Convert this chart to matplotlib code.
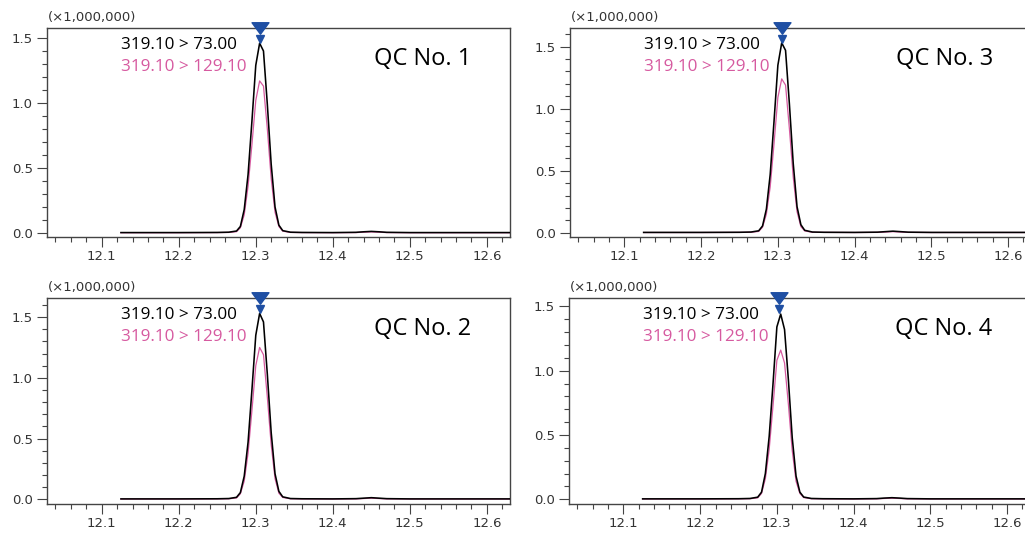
""" QC chromatograms, 4 panels

"""
import numpy as np
import matplotlib
matplotlib.use("Agg")
import matplotlib.pyplot as plt
import matplotlib.transforms as mtransforms
from matplotlib.path import Path
from matplotlib.ticker import MultipleLocator, FormatStrFormatter


# retention time (min)
rt = [12.125, 12.15, 12.20, 12.25, 12.265, 12.275, 12.28, 12.285, 12.29, 12.295,
      12.30, 12.305, 12.31, 12.315, 12.32, 12.325, 12.33, 12.335, 12.345, 12.36,
      12.40, 12.43, 12.44, 12.45, 12.46, 12.47, 12.50, 12.55, 12.60, 12.65]

# intensities (x1,000,000)
qc1_73 = [0.003, 0.003, 0.003, 0.004, 0.006, 0.015, 0.05, 0.18, 0.45, 0.86,
          1.29, 1.46, 1.40, 0.99, 0.53, 0.20, 0.06, 0.018, 0.006, 0.004,
          0.003, 0.005, 0.009, 0.012, 0.009, 0.005, 0.003, 0.003, 0.003, 0.003]
qc1_129 = [0.002, 0.002, 0.002, 0.003, 0.004, 0.010, 0.04, 0.14, 0.36, 0.68,
           1.02, 1.17, 1.13, 0.80, 0.42, 0.16, 0.05, 0.014, 0.004, 0.003,
           0.002, 0.003, 0.006, 0.008, 0.006, 0.003, 0.002, 0.002, 0.002, 0.002]

qc2_73 = [0.003, 0.003, 0.003, 0.004, 0.006, 0.016, 0.055, 0.19, 0.47, 0.90,
          1.35, 1.53, 1.46, 1.03, 0.55, 0.21, 0.065, 0.02, 0.006, 0.004,
          0.003, 0.005, 0.009, 0.013, 0.009, 0.005, 0.003, 0.003, 0.003, 0.003]
qc2_129 = [0.002, 0.002, 0.002, 0.003, 0.004, 0.011, 0.045, 0.15, 0.38, 0.73,
           1.10, 1.25, 1.19, 0.84, 0.45, 0.17, 0.05, 0.015, 0.004, 0.003,
           0.002, 0.003, 0.006, 0.009, 0.006, 0.003, 0.002, 0.002, 0.002, 0.002]

qc3_73 = [0.003, 0.003, 0.003, 0.004, 0.006, 0.016, 0.055, 0.19, 0.47, 0.90,
          1.35, 1.53, 1.47, 1.04, 0.56, 0.21, 0.065, 0.02, 0.006, 0.004,
          0.003, 0.005, 0.009, 0.013, 0.009, 0.005, 0.003, 0.003, 0.003, 0.003]
qc3_129 = [0.002, 0.002, 0.002, 0.003, 0.004, 0.011, 0.045, 0.15, 0.37, 0.72,
           1.09, 1.24, 1.19, 0.84, 0.45, 0.17, 0.05, 0.015, 0.004, 0.003,
           0.002, 0.003, 0.006, 0.009, 0.006, 0.003, 0.002, 0.002, 0.002, 0.002]

qc4_73 = [0.003, 0.003, 0.003, 0.004, 0.006, 0.016, 0.055, 0.20, 0.49, 0.90,
          1.34, 1.44, 1.32, 0.93, 0.48, 0.18, 0.055, 0.017, 0.006, 0.004,
          0.003, 0.005, 0.009, 0.012, 0.009, 0.005, 0.003, 0.003, 0.003, 0.003]
qc4_129 = [0.002, 0.002, 0.002, 0.003, 0.004, 0.011, 0.045, 0.16, 0.39, 0.73,
           1.08, 1.16, 1.06, 0.74, 0.38, 0.14, 0.045, 0.013, 0.004, 0.003,
           0.002, 0.003, 0.006, 0.008, 0.006, 0.003, 0.002, 0.002, 0.002, 0.002]

panel_names = ["QC No. 1", "QC No. 2", "QC No. 3", "QC No. 4"]
peak_rt = [12.306, 12.305, 12.306, 12.303]
y_top = [1.577, 1.657, 1.65, 1.565]
y_bottom = [-0.031, -0.039, -0.034, -0.037]
trace_labels = ["319.10 > 73.00", "319.10 > 129.10"]

BLACK = "#000000"
PINK = "#d65aa0"
BLUE = "#1f4fa3"
AXC = "#444444"

W, H = 1025, 534
# axes rectangles in pixels: left, top, width, height
rects = [(47, 28, 463, 209), (47, 298, 463, 206),
         (570, 28, 461, 209), (569, 298, 461, 206)]

tri_path = Path([(-1, 0.68), (1, 0.68), (0, -0.68), (-1, 0.68)],
                [Path.MOVETO, Path.LINETO, Path.LINETO, Path.CLOSEPOLY])


def main():
    fig = plt.figure(figsize=(W / 100, H / 100), dpi=100)
    series = [(qc1_73, qc1_129), (qc2_73, qc2_129), (qc3_73, qc3_129), (qc4_73, qc4_129)]

    for i in range(4):
        l, t, w, h = rects[i]
        ax = fig.add_axes([l / W, 1 - (t + h) / H, w / W, h / H])
        a, b = series[i]
        ax.plot(rt, b, color=PINK, lw=0.9, zorder=2)
        ax.plot(rt, a, color=BLACK, lw=1.15, zorder=3)

        ax.set_xlim(12.029, 12.63)
        ax.set_ylim(y_bottom[i], y_top[i])
        ax.xaxis.set_major_locator(MultipleLocator(0.1))
        ax.xaxis.set_minor_locator(MultipleLocator(0.02))
        ax.yaxis.set_major_locator(MultipleLocator(0.5))
        ax.yaxis.set_minor_locator(MultipleLocator(0.1))
        ax.xaxis.set_major_formatter(FormatStrFormatter("%.1f"))
        ax.yaxis.set_major_formatter(FormatStrFormatter("%.1f"))
        ax.tick_params(which="major", direction="out", length=7.2, width=0.8,
                       color=AXC, labelcolor="#333333", labelsize=9.5, pad=2)
        ax.tick_params(which="minor", direction="out", length=3.6, width=0.8, color=AXC)
        ax.tick_params(axis="y", which="major", pad=3)
        for s in ax.spines.values():
            s.set_color(AXC)
            s.set_linewidth(1.0)

        trans = ax.get_xaxis_transform()
        ax.annotate("(\u00d71,000,000)", xy=(0, 1), xycoords="axes fraction",
                    xytext=(1, 7), textcoords="offset pixels", ha="left",
                    va="baseline", fontsize=9.5, color="#333333")
        ax.annotate(trace_labels[0], xy=(12.125, 1), xycoords=trans,
                    xytext=(0, -21), textcoords="offset pixels", ha="left",
                    va="baseline", fontsize=12.3, color=BLACK, family="Open Sans")
        ax.annotate(trace_labels[1], xy=(12.125, 1), xycoords=trans,
                    xytext=(0, -43), textcoords="offset pixels", ha="left",
                    va="baseline", fontsize=12.3, color=PINK, family="Open Sans")
        ax.annotate(panel_names[i], xy=(12.517, 1), xycoords=trans,
                    xytext=(0, -37.3), textcoords="offset pixels", ha="center",
                    va="baseline", fontsize=17, color=BLACK, family="Open Sans")

        # peak marker
        ax.plot([peak_rt[i]], [1], marker=tri_path, ms=12.2, color=BLUE,
                transform=trans, clip_on=False, zorder=5)
        small = mtransforms.offset_copy(trans, fig=fig, y=-11, units="dots")
        ax.plot([peak_rt[i]], [1], marker="v", ms=5.5, color=BLUE,
                transform=small, clip_on=False, zorder=5)

    fig.savefig("out.png", dpi=100)


if __name__ == "__main__":
    main()
